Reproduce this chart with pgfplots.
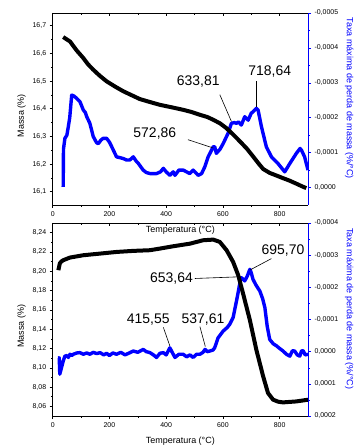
\documentclass[border=0pt]{standalone}
\usepackage{pgfplots}
\pgfplotsset{compat=1.18}
\usepackage{fontspec}
\setmainfont{Liberation Sans}
\definecolor{myblue}{RGB}{0,0,255}

\pgfplotstableread{
T m
37 16.659
61 16.643
85 16.610
108 16.583
125 16.560
143 16.541
165 16.520
190 16.499
220 16.480
249 16.463
280 16.448
307 16.435
340 16.425
378 16.414
420 16.405
460 16.396
490 16.388
519 16.378
545 16.370
566 16.360
590 16.347
612 16.330
635 16.308
660 16.282
685 16.255
706 16.228
725 16.203
742 16.182
765 16.168
790 16.158
812 16.149
835 16.140
859 16.129
880 16.119
894 16.113
}\topmass

\pgfplotstableread{
T r
37 -0.000002
38 -0.000110
43 -0.000141
50 -0.000150
55 -0.000174
60 -0.000200
67 -0.000265
75 -0.000262
84 -0.000256
96 -0.000246
108 -0.000222
115 -0.000215
120 -0.000203
131 -0.000184
143 -0.000146
155 -0.000128
161 -0.000126
170 -0.000136
178 -0.000141
190 -0.000141
200 -0.000130
208 -0.000117
225 -0.000088
240 -0.000085
249 -0.000083
260 -0.000079
272 -0.000079
284 -0.000088
295 -0.000075
302 -0.000069
319 -0.000050
330 -0.000043
343 -0.000040
366 -0.000040
380 -0.000045
390 -0.000055
400 -0.000045
413 -0.000035
425 -0.000045
431 -0.000035
445 -0.000050
460 -0.000050
472 -0.000045
483 -0.000040
495 -0.000050
513 -0.000035
525 -0.000040
536 -0.000059
548 -0.000088
560 -0.000107
566 -0.000117
571 -0.000117
577 -0.000098
590 -0.000110
601 -0.000126
618 -0.000155
630 -0.000184
640 -0.000186
648 -0.000184
655 -0.000188
665 -0.000179
677 -0.000203
689 -0.000193
700 -0.000213
706 -0.000217
712 -0.000222
718 -0.000227
724 -0.000222
736 -0.000174
753 -0.000117
771 -0.000088
794 -0.000069
818 -0.000045
836 -0.000069
859 -0.000098
872 -0.000112
877 -0.000107
888 -0.000088
900 -0.000050
}\toprate

\pgfplotstableread{
T m
20 8.2011
25 8.2080
30 8.2100
37 8.2114
61 8.2142
108 8.2166
167 8.2183
225 8.2200
284 8.2211
343 8.2218
378 8.2235
425 8.2259
484 8.2286
530 8.2321
566 8.2328
589 8.2304
613 8.2218
636 8.2097
654 8.1959
671 8.1770
695 8.1495
718 8.1185
742 8.0910
759 8.0738
777 8.0669
795 8.0648
812 8.0641
835 8.0646
859 8.0651
880 8.0660
900 8.0669
}\botmass

\pgfplotstableread{
T r
20 0.000020
23 0.000019
25 0.000070
28 0.000060
31 0.000050
37 0.000029
43 0.000014
50 0.000012
55 0.000018
61 0.000008
67 0.000012
73 0.000008
85 0.000004
96 0.000003
108 0.000008
120 0.000004
131 0.000008
143 0.000002
155 0.000006
167 0.000003
180 0.000010
190 0.000005
200 0.000012
212 0.000004
225 0.000008
240 0.000002
255 0.000010
270 0.000004
284 -0.000002
300 0.000002
319 -0.000007
330 0.000000
343 0.000003
355 0.000010
366 0.000018
378 0.000005
390 0.000003
400 0.000010
413 -0.000012
420 0.000000
431 0.000018
445 0.000008
460 0.000008
472 0.000016
484 0.000010
495 0.000018
507 0.000008
519 0.000008
530 0.000002
537 -0.000007
545 0.000000
554 -0.000002
565 -0.000005
571 -0.000012
583 -0.000043
601 -0.000064
615 -0.000075
624 -0.000085
636 -0.000106
648 -0.000158
655 -0.000190
660 -0.000215
665 -0.000230
672 -0.000225
677 -0.000220
686 -0.000235
695 -0.000256
700 -0.000245
706 -0.000225
718 -0.000205
730 -0.000189
740 -0.000165
748 -0.000137
756 -0.000080
765 -0.000038
777 -0.000025
789 -0.000018
800 -0.000010
812 -0.000002
824 0.000008
836 0.000014
845 -0.000003
853 -0.000002
862 0.000010
871 0.000014
877 -0.000002
883 -0.000003
890 0.000010
900 0.000008
}\botrate

\pgfplotsset{
  common/.style={
    scale only axis, width=255.3bp, xmin=0, xmax=900,
    /pgf/number format/assume math mode=true,
    tick label style={font=\fontsize{7}{8}\selectfont},
    label style={font=\fontsize{9}{10}\selectfont},
    tick align=outside, major tick length=3bp, minor tick length=1.8bp,
    tick style={black, line width=0.5pt},
    axis line style={line width=0.7pt},
    xtick={0,200,400,600,800}, minor x tick num=1,
  },
  ratestyle/.style={
    axis y line*=right, axis x line=none, y dir=reverse,
    scaled y ticks=false, minor y tick num=1,
    yticklabel style={/pgf/number format/.cd, fixed, fixed zerofill, precision=4, use comma},
    y axis line style={myblue, line width=0.7pt},
    tick style={myblue, line width=0.5pt},
    ylabel style={myblue, rotate=180, at={(ticklabel cs:0.555)}},
    ylabel={Taxa máxima de perda de massa (\%/°C)},
  },
  massstyle/.style={
    axis y line*=left, xtick pos=bottom, minor y tick num=1,
    xlabel={Temperatura (°C)}, ylabel={Massa (\%)},
    ylabel style={at={(ticklabel cs:0.465)}},
    xlabel style={at={(axis description cs:0.5,0)}, anchor=center, yshift=-25bp},
  },
  topticks/.style={
    axis x line*=top, hide y axis, ymin=0, ymax=1,
    xticklabels={}, tick align=inside,
  },
}

\begin{document}
\begin{tikzpicture}
\path[use as bounding box] (-52.7bp,-29bp) rectangle (304.3bp,416bp);

% ---------- top panel ----------
\begin{axis}[common, ratestyle, at={(0bp,211bp)}, height=192bp,
  ymin=-0.0005, ymax=0.00005,
  ytick={-0.0005,-0.0004,-0.0003,-0.0002,-0.0001,0}]
\addplot[myblue, line width=3.4bp, line join=round] table[x=T,y=r]{\toprate};
\end{axis}
\begin{axis}[common, topticks, at={(0bp,211bp)}, height=192bp]
\end{axis}
\begin{axis}[common, massstyle, at={(0bp,211bp)}, height=192bp,
  ymin=16.052, ymax=16.746,
  ytick={16.1,16.2,16.3,16.4,16.5,16.6,16.7},
  yticklabel style={/pgf/number format/.cd, fixed, fixed zerofill, precision=1, use comma}]
\addplot[black, line width=4bp, line join=round] table[x=T,y=m]{\topmass};
\draw[line width=0.6pt] (axis cs:477,16.288) -- (axis cs:566,16.258);
\draw[line width=0.6pt] (axis cs:589,16.451) -- (axis cs:630,16.354);
\draw[line width=0.6pt] (axis cs:718,16.499) -- (axis cs:718,16.408);
\node[font=\fontsize{14}{16}\selectfont] at (axis cs:360,16.312) {572,86};
\node[font=\fontsize{14}{16}\selectfont] at (axis cs:513,16.499) {633,81};
\node[font=\fontsize{14}{16}\selectfont] at (axis cs:765,16.535) {718,64};
\end{axis}

% ---------- bottom panel ----------
\begin{axis}[common, ratestyle, at={(0bp,0bp)}, height=193bp,
  ymin=-0.0004, ymax=0.0002,
  ytick={-0.0004,-0.0003,-0.0002,-0.0001,0,0.0001,0.0002}]
\addplot[myblue, line width=3.4bp, line join=round] table[x=T,y=r]{\botrate};
\end{axis}
\begin{axis}[common, topticks, at={(0bp,0bp)}, height=193bp]
\end{axis}
\begin{axis}[common, massstyle, at={(0bp,0bp)}, height=193bp,
  ymin=8.05, ymax=8.25,
  ytick={8.06,8.08,8.10,8.12,8.14,8.16,8.18,8.20,8.22,8.24},
  yticklabel style={/pgf/number format/.cd, fixed, fixed zerofill, precision=2, use comma}]
\addplot[black, line width=4bp, line join=round] table[x=T,y=m]{\botmass};
\draw[line width=0.6pt] (axis cs:771,8.2131) -- (axis cs:695,8.2012);
\draw[line width=0.6pt] (axis cs:501,8.1925) -- (axis cs:654,8.1942);
\draw[line width=0.6pt] (axis cs:390,8.1419) -- (axis cs:413,8.1226);
\draw[line width=0.6pt] (axis cs:519,8.1426) -- (axis cs:538,8.1220);
\node[font=\fontsize{14}{16}\selectfont] at (axis cs:812,8.221) {695,70};
\node[font=\fontsize{14}{16}\selectfont] at (axis cs:419,8.1925) {653,64};
\node[font=\fontsize{14}{16}\selectfont] at (axis cs:337,8.1502) {415,55};
\node[font=\fontsize{14}{16}\selectfont] at (axis cs:530,8.1502) {537,61};
\end{axis}
\end{tikzpicture}
\end{document}
